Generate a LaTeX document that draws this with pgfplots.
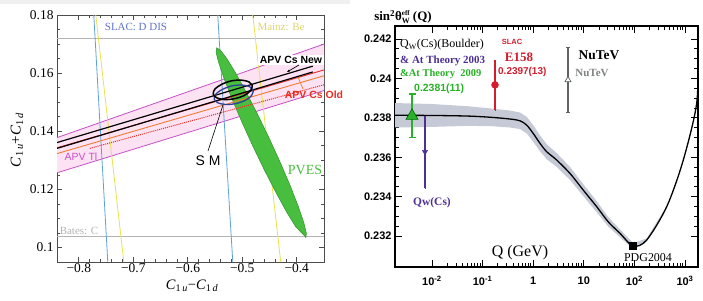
\documentclass[border=0pt]{standalone}
\usepackage{pgfplots}
\pgfplotsset{compat=1.18}
\usetikzlibrary{arrows.meta}
\usepackage{fontspec}
\setmainfont{Liberation Serif}
\setsansfont{Liberation Sans}
\definecolor{slacblue}{RGB}{95,160,220}
\definecolor{slactext}{RGB}{95,115,200}
\definecolor{mainzyel}{RGB}{232,226,80}
\definecolor{mainztext}{RGB}{222,212,110}
\definecolor{batesgray}{RGB}{180,180,180}
\definecolor{tlmag}{RGB}{200,80,200}
\definecolor{tlfill}{RGB}{252,226,242}
\definecolor{csred}{RGB}{232,45,35}
\definecolor{csorange}{RGB}{240,125,45}
\definecolor{pvesgreen}{RGB}{72,190,62}
\definecolor{smblue}{RGB}{45,65,150}
\definecolor{bandgray}{RGB}{198,202,214}
\definecolor{bouldgreen}{RGB}{40,178,40}
\definecolor{qwpurple}{RGB}{78,48,145}
\definecolor{e158red}{RGB}{212,28,45}
\definecolor{nutevgray}{RGB}{95,100,95}
\begin{document}
\begin{tikzpicture}[x=1bp,y=1bp]
\path[use as bounding box, fill=white] (0,0) rectangle (703,300);
\fill[black!6] (0,296) rectangle (350,300);
% ---------------- left panel ----------------
\begin{axis}[
  at={(57bp,38bp)}, anchor=south west, scale only axis,
  width=267bp, height=247bp,
  xmin=-0.84, xmax=-0.35, ymin=0.095, ymax=0.18,
  xtick={-0.8,-0.7,-0.6,-0.5,-0.4},
  xticklabels={−0.8,−0.7,−0.6,−0.5,−0.4},
  ytick={0.1,0.12,0.14,0.16,0.18},
  yticklabels={0.1,0.12,0.14,0.16,0.18},
  minor x tick num=4, minor y tick num=3,
  tick align=inside,
  major tick length=5bp, minor tick length=3bp,
  tick style={black!70, line width=0.6bp},
  axis line style={black!70, line width=0.8bp},
  ticklabel style={font=\fontsize{13.5}{13.5}\selectfont},
  xticklabel style={yshift=2bp},
  clip=true,
]
% APV Tl band
\addplot[fill=tlfill, draw=none] coordinates {(-0.84,0.1378) (-0.35,0.1700) (-0.35,0.1540) (-0.84,0.1257) (-0.84,0.1378)};
\addplot[tlmag, line width=0.8bp] coordinates {(-0.84,0.1378) (-0.35,0.1700)};
\addplot[tlmag, line width=0.8bp] coordinates {(-0.84,0.1257) (-0.35,0.1540)};
% SLAC and Bates horizontal
\addplot[batesgray, line width=0.8bp] coordinates {(-0.84,0.1721) (-0.35,0.1721)};
\addplot[batesgray, line width=0.8bp] coordinates {(-0.84,0.1038) (-0.35,0.1038)};
% SLAC D DIS (blue) and Mainz Be (yellow)
\addplot[slacblue, line width=0.8bp] coordinates {(-0.7725,0.18) (-0.7468,0.095)};
\addplot[mainzyel, line width=0.8bp] coordinates {(-0.7688,0.18) (-0.7174,0.095)};
\addplot[slacblue, line width=0.8bp] coordinates {(-0.545,0.18) (-0.5174,0.095)};
\addplot[mainzyel, line width=0.8bp] coordinates {(-0.4807,0.18) (-0.4294,0.095)};
% PVES ellipse
\addplot[fill=pvesgreen, draw=pvesgreen!80!black, line width=0.6bp] coordinates {
(-0.3834,0.1034) (-0.3823,0.1048) (-0.3869,0.1084) (-0.3968,0.1139) (-0.4113,0.1209)
(-0.4295,0.1289) (-0.4502,0.1374) (-0.4719,0.1458) (-0.4931,0.1535) (-0.5124,0.1601)
(-0.5284,0.1650) (-0.5402,0.1679) (-0.5469,0.1687) (-0.5480,0.1672) (-0.5434,0.1637)
(-0.5335,0.1582) (-0.5190,0.1512) (-0.5007,0.1432) (-0.4801,0.1347) (-0.4584,0.1263)
(-0.4372,0.1186) (-0.4179,0.1120) (-0.4018,0.1071) (-0.3864,0.1042) (-0.3834,0.1034)};
% APV Cs old (red)
\addplot[csred, line width=1bp, densely dotted] coordinates {(-0.7798,0.1341) (-0.35,0.1560)};
\addplot[csred, line width=0.9bp] coordinates {(-0.84,0.1343) (-0.35,0.1611)};
\addplot[csorange, line width=0.9bp] coordinates {(-0.84,0.1323) (-0.35,0.1591)};
% APV Cs new (black)
\addplot[black, line width=1.2bp] coordinates {(-0.84,0.1361) (-0.3706,0.1624)};
\addplot[black, line width=1.2bp] coordinates {(-0.84,0.1341) (-0.3706,0.1604)};
% SM ellipses
\addplot[smblue, line width=1.3bp, smooth] coordinates {
(-0.4797,0.1540) (-0.4828,0.1523) (-0.4947,0.1506) (-0.5122,0.1495) (-0.5306,0.1492)
(-0.5450,0.1498) (-0.5515,0.1511) (-0.5484,0.1528) (-0.5365,0.1544) (-0.5190,0.1556)
(-0.5006,0.1559) (-0.4862,0.1553) (-0.4797,0.1540)};
\addplot[black, line width=1.5bp, smooth] coordinates {
(-0.4815,0.1557) (-0.4846,0.1540) (-0.4965,0.1523) (-0.5140,0.1512) (-0.5324,0.1509)
(-0.5468,0.1515) (-0.5533,0.1528) (-0.5502,0.1545) (-0.5383,0.1561) (-0.5208,0.1573)
(-0.5024,0.1576) (-0.4880,0.1570) (-0.4815,0.1557)};
\end{axis}
% left annotations
\node[font=\fontsize{11}{11}\selectfont, text=slactext] at (136,273) {SLAC: D DIS};
\node[font=\fontsize{11}{11}\selectfont, text=mainztext] at (281,273) {Mainz: Be};
\node[font=\fontsize{11}{11}\selectfont, text=batesgray] at (79,69) {Bates: C};
\node[font=\sffamily\bfseries\fontsize{10.5}{10.5}\selectfont, fill=white, inner sep=1.5bp] at (291,240) {APV Cs New};
\draw[black, line width=0.7bp, -{Stealth[length=3bp]}] (299,235) -- (287,228);
\node[font=\sffamily\bfseries\fontsize{10.5}{10.5}\selectfont, text=csred] at (314,205) {APV Cs Old};
\draw[csorange, line width=0.7bp] (298,223) -- (303,211);
\node[font=\sffamily\fontsize{10.5}{10.5}\selectfont, text=tlmag] at (81,143) {APV Tl};
\node[font=\sffamily\fontsize{14}{14}\selectfont] at (208,139) {S M};
\draw[black, line width=0.6bp] (208,149) -- (223,195);
\node[font=\fontsize{14}{14}\selectfont, text=pvesgreen] at (305,130) {PVES};
\node[font=\fontsize{15}{15}\selectfont, rotate=90] at (17,160) {\textit{C}\textsubscript{1\,\textit{u}}+\textit{C}\textsubscript{1\,\textit{d}}};
\node[font=\fontsize{14.5}{14.5}\selectfont] at (192,14) {\textit{C}\textsubscript{1\,\textit{u}}−\textit{C}\textsubscript{1\,\textit{d}}};
% ---------------- right panel ----------------
\begin{axis}[
  at={(395bp,33bp)}, anchor=south west, scale only axis,
  width=303bp, height=241bp,
  xmode=log, xmin=0.00186, xmax=1807, ymin=0.23043, ymax=0.24266,
  xtick={0.01,0.1,1,10,100,1000},
  xticklabels={10\textsuperscript{-2},10\textsuperscript{-1},1,10,10\textsuperscript{2},10\textsuperscript{3}},
  ytick={0.232,0.234,0.236,0.238,0.24,0.242},
  yticklabels={0.232,0.234,0.236,0.238,0.24,0.242},
  minor y tick num=3,
  tick align=inside,
  major tick length=7bp, minor tick length=4bp,
  tick style={black, line width=0.9bp},
  axis line style={black, line width=1.3bp},
  ticklabel style={font=\sffamily\bfseries\fontsize{11}{11}\selectfont},
  xticklabel style={yshift=-6bp},
  clip=true,
]
\addplot[fill=bandgray, draw=none] coordinates {
(0.00186,0.23875) (0.01,0.23870) (0.05,0.23859) (0.14,0.23848) (0.348,0.23837)
(0.548,0.23827) (0.744,0.23805) (1.0,0.23763) (1.36,0.23711) (1.85,0.23666)
(2.91,0.23621) (5.33,0.23551) (9.78,0.23463) (18,0.23377) (30.5,0.23296)
(51.9,0.23234) (95.1,0.23164) (175,0.23188) (435,0.23354)
(435,0.23344) (175,0.23172) (95.1,0.23134) (51.9,0.23194) (30.5,0.23248)
(18,0.23321) (9.78,0.23403) (5.33,0.23485) (2.91,0.23551) (1.85,0.23590)
(1.36,0.23631) (1.0,0.23679) (0.744,0.23721) (0.548,0.23743) (0.348,0.23751)
(0.14,0.23758) (0.05,0.23759) (0.01,0.23754) (0.00186,0.23751)};
\addplot[black, line width=1.3bp, smooth] coordinates {
(0.00186,0.23813) (0.01,0.23812) (0.05,0.23809) (0.14,0.23803) (0.348,0.23794)
(0.548,0.23785) (0.744,0.23763) (1.0,0.23721) (1.36,0.23671) (1.85,0.23628)
(2.91,0.23586) (5.33,0.23518) (9.78,0.23433) (18,0.23349) (30.5,0.23272)
(51.9,0.23214) (95.1,0.23149) (175,0.23180) (435,0.23349) (925,0.23586)
(1702,0.23874) (1807,0.24144)};
% Qw(Cs) Boulder 2009
\addplot[only marks, mark=triangle*, mark size=7bp,
  mark options={fill=bouldgreen, draw=black!60!green, line width=0.6bp},
  error bars/.cd, y dir=both, y explicit,
  error bar style={bouldgreen, line width=1.5bp},
  error mark options={rotate=90, mark size=3.5bp, bouldgreen, line width=1.5bp}]
  coordinates {(0.00403,0.2381) +- (0,0.0011)};
% Qw(Cs) 2003
\addplot[only marks, mark=triangle*, mark size=3bp,
  mark options={fill=qwpurple, draw=qwpurple, rotate=180},
  error bars/.cd, y dir=both, y explicit,
  error bar style={qwpurple, line width=1.6bp},
  error mark options={rotate=90, mark size=0.1bp}]
  coordinates {(0.00727,0.23627) +- (0,0.00183)};
% E158
\addplot[only marks, mark=*, mark size=3.5bp,
  mark options={fill=e158red, draw=e158red},
  error bars/.cd, y dir=both, y explicit,
  error bar style={e158red, line width=1.5bp},
  error mark options={rotate=90, mark size=0.1bp}]
  coordinates {(0.176,0.23967) +- (0,0.00127)};
% NuTeV
\addplot[only marks, mark=triangle*, mark size=3.5bp,
  mark options={fill=white, draw=nutevgray, line width=0.7bp},
  error bars/.cd, y dir=both, y explicit,
  error bar style={nutevgray, line width=1.3bp},
  error mark options={rotate=90, mark size=2bp, nutevgray, line width=1bp}]
  coordinates {(4.87,0.23992) +- (0,0.00163)};
% PDG2004
\addplot[only marks, mark=square*, mark size=3.5bp, mark options={fill=black}]
  coordinates {(91.2,0.23149)};
\end{axis}
% right annotations
\node[font=\bfseries\fontsize{13}{13}\selectfont] at (403,283) {sin\textsuperscript{2}θ\rlap{\raisebox{-2.5bp}{\fontsize{8}{8}\selectfont W}}\raisebox{5.5bp}{\fontsize{7}{7}\selectfont eff}\ (Q)};
\node[anchor=west, font=\fontsize{12}{12}\selectfont, inner sep=0] at (400,255) {Q\textsubscript{W}(Cs)(Boulder)};
\node[anchor=west, font=\bfseries\fontsize{11}{11}\selectfont, text=qwpurple, inner sep=0] at (400,239) {\& At Theory 2003};
\node[anchor=west, font=\bfseries\fontsize{10.5}{10.5}\selectfont, text=bouldgreen, inner sep=0] at (400,226) {\&At Theory \ 2009};
\node[anchor=west, font=\sffamily\bfseries\fontsize{10.5}{10.5}\selectfont, text=bouldgreen, inner sep=0] at (414,211) {0.2381(11)};
\node[font=\sffamily\bfseries\fontsize{7.5}{7.5}\selectfont, text=e158red] at (512,258) {SLAC};
\node[font=\bfseries\fontsize{13}{13}\selectfont, text=e158red] at (519,242.5) {E158};
\node[anchor=west, font=\sffamily\bfseries\fontsize{10}{10}\selectfont, text=e158red, inner sep=0] at (498,228) {0.2397(13)};
\node[font=\bfseries\fontsize{13.5}{13.5}\selectfont] at (599,245) {NuTeV};
\node[font=\bfseries\fontsize{11}{11}\selectfont, text=nutevgray!80] at (592,227.5) {NuTeV};
\node[font=\bfseries\fontsize{11.5}{11.5}\selectfont, text=qwpurple] at (432,97.5) {Qw(Cs)};
\node[font=\fontsize{16}{16}\selectfont] at (520,47.5) {Q (GeV)};
\node[font=\fontsize{12}{12}\selectfont] at (648,42.5) {PDG2004};
\end{tikzpicture}
\end{document}
